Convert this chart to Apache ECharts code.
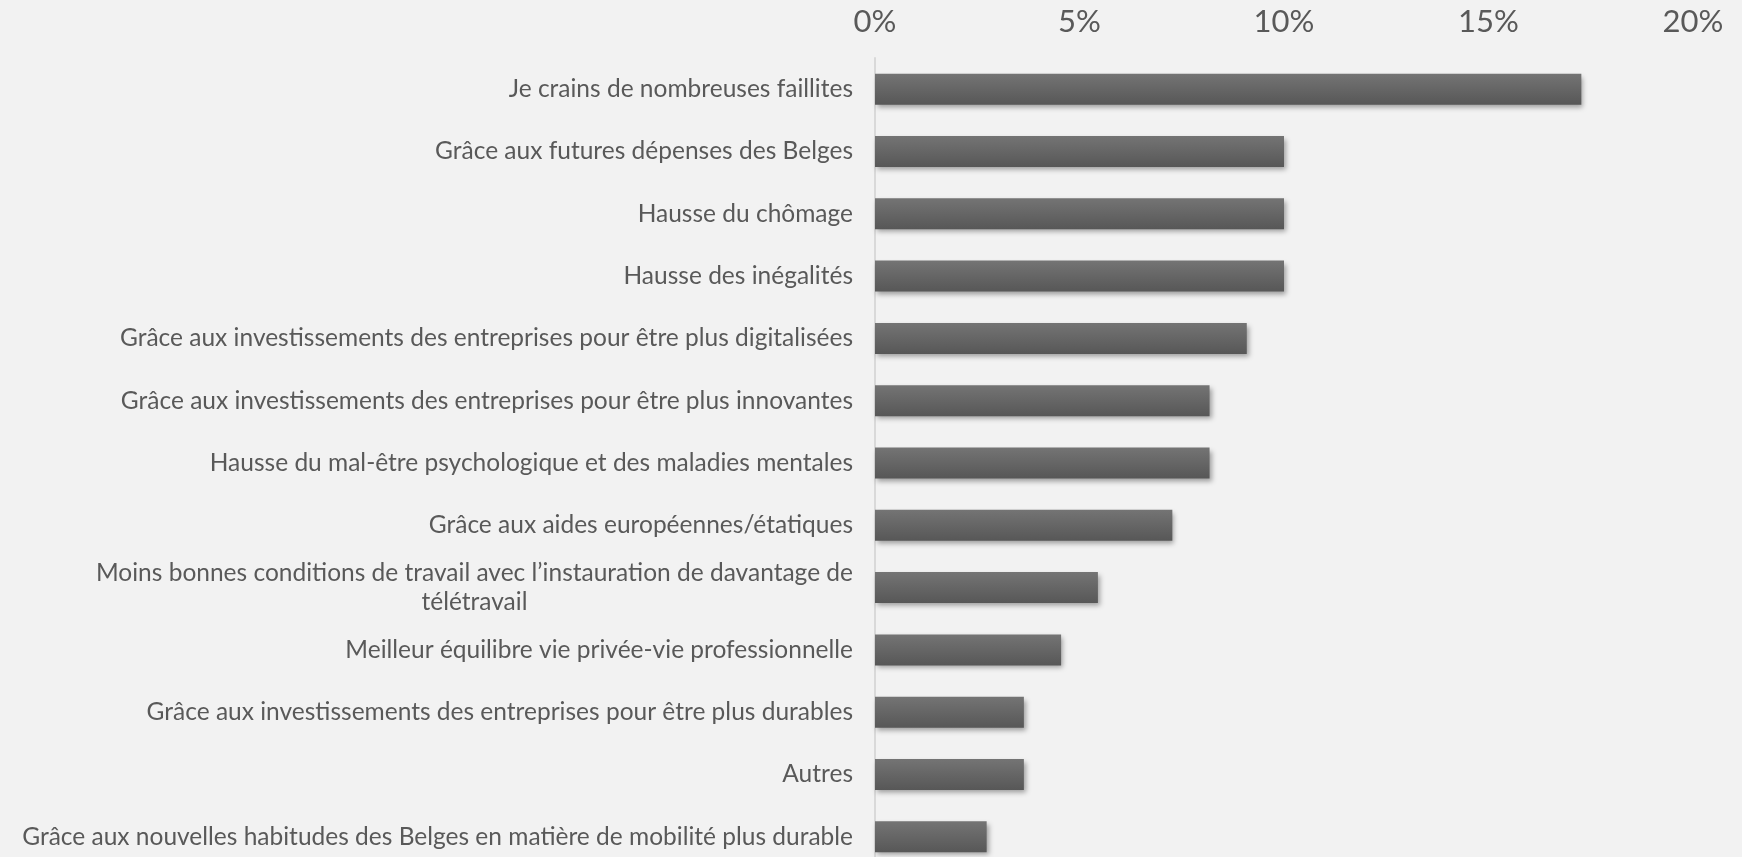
<!DOCTYPE html>
<html>
<head>
<meta charset="utf-8">
<script src="https://cdn.jsdelivr.net/npm/echarts@6/dist/echarts.min.js"></script>
<style>
  html, body { margin: 0; padding: 0; background: #f2f2f2; }
  #chart { width: 1742px; height: 857px; }
</style>
</head>
<body>
<div id="chart"></div>
<script>
// Survey answers, share of respondents (%)
const categories = [
  "Je crains de nombreuses faillites",
  "Grâce aux futures dépenses des Belges",
  "Hausse du chômage",
  "Hausse des inégalités",
  "Grâce aux investissements des entreprises pour être plus digitalisées",
  "Grâce aux investissements des entreprises pour être plus innovantes",
  "Hausse du mal-être psychologique et des maladies mentales",
  "Grâce aux aides européennes/étatiques",
  "Moins bonnes conditions de travail avec l’instauration de davantage de\ntélétravail",
  "Meilleur équilibre vie privée-vie professionnelle",
  "Grâce aux investissements des entreprises pour être plus durables",
  "Autres",
  "Grâce aux nouvelles habitudes des Belges en matière de mobilité plus durable"
];
const values = [17.27, 10.0, 10.0, 10.0, 9.09, 8.18, 8.18, 7.27, 5.45, 4.55, 3.64, 3.64, 2.73];
const tickValues = [0, 5, 10, 15, 20];

const FONT = 'Lato';
const TEXT = '#595959';
const LABEL_SIZE = 24.5;

const chart = echarts.init(document.getElementById('chart'), null, { renderer: 'canvas' });
chart.setOption({
  backgroundColor: '#f2f2f2',
  animation: false,
  // the last row runs past the bottom edge
  grid: {
    left: 875, right: 49, top: 58, bottom: -11,
    containLabel: false,
    outerBoundsMode: 'none'
  },
  xAxis: {
    type: 'value',
    position: 'top',
    min: tickValues[0],
    max: tickValues[tickValues.length - 1],
    interval: tickValues[1] - tickValues[0],
    axisLine: { show: false },
    axisTick: { show: false },
    splitLine: { show: false },
    axisLabel: {
      formatter: '{value}%',
      color: TEXT,
      fontFamily: FONT,
      fontSize: 31,
      margin: 21
    }
  },
  yAxis: {
    type: 'category',
    inverse: true,
    data: categories,
    axisLine: { show: true, lineStyle: { color: '#d9d9d9', width: 2 } },
    axisTick: { show: false },
    axisLabel: {
      color: TEXT,
      fontFamily: FONT,
      fontSize: LABEL_SIZE,
      margin: 22,
      lineHeight: 29,
      formatter: function (v) {
        const parts = v.split('\n');
        if (parts.length === 1) return '{a|' + v + '}';
        return parts.map(p => '{c|' + p + '}').join('\n');
      },
      rich: {
        a: { color: TEXT, fontFamily: FONT, fontSize: LABEL_SIZE, lineHeight: 29 },
        c: { color: TEXT, fontFamily: FONT, fontSize: LABEL_SIZE, lineHeight: 29, align: 'center' }
      }
    }
  },
  series: [{
    type: 'bar',
    data: values,
    barWidth: 31,
    itemStyle: {
      color: new echarts.graphic.LinearGradient(0, 0, 0, 1, [
        { offset: 0, color: '#747474' },
        { offset: 1, color: '#575757' }
      ]),
      shadowColor: 'rgba(0,0,0,0.35)',
      shadowBlur: 5,
      shadowOffsetX: 2,
      shadowOffsetY: 3
    }
  }]
});
</script>
</body>
</html>
